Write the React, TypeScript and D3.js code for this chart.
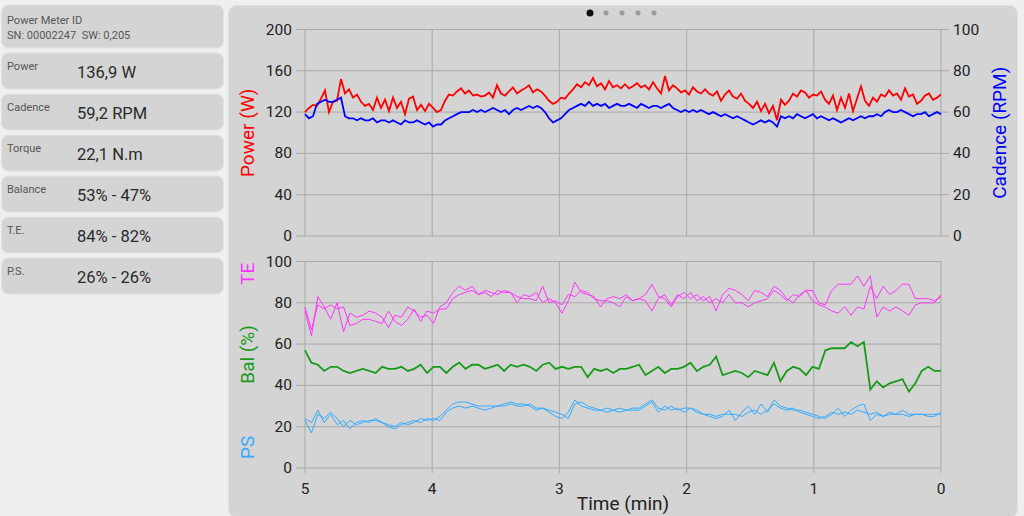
import * as d3 from 'd3';

// top chart: power (W) and cadence (RPM), 160 samples from 5 min ago to now
const powerW = [
  120, 124, 127, 126, 133, 141, 120, 130, 131, 152, 138, 142, 134, 137, 130, 126, 128, 122, 134, 124,
  132, 121, 134, 124, 130, 118, 133, 135, 122, 127, 121, 128, 124, 120, 122, 131, 137, 136, 140, 143,
  138, 141, 136, 137, 135, 136, 139, 134, 146, 138, 136, 140, 144, 138, 141, 143, 146, 139, 142, 140,
  136, 131, 128, 130, 134, 133, 138, 142, 147, 144, 149, 146, 153, 145, 148, 142, 150, 144, 146, 143,
  147, 143, 145, 148, 144, 146, 142, 149, 143, 138, 155, 141, 146, 143, 139, 141, 137, 144, 140, 138,
  142, 138, 136, 140, 131, 137, 141, 135, 133, 138, 131, 128, 124, 130, 121, 128, 119, 126, 112, 132,
  127, 131, 138, 135, 141, 139, 134, 137, 136, 140, 132, 128, 136, 122, 134, 124, 138, 121, 133, 145,
  131, 126, 134, 130, 137, 135, 141, 136, 138, 132, 143, 135, 137, 128, 131, 136, 138, 132, 134, 137,
];
const cadenceRpm = [
  59, 57, 58, 64, 65, 66, 65, 65, 66, 67, 58, 57, 57, 56, 57, 56, 56, 57, 55, 56,
  56, 55, 56, 55, 54, 56, 55, 55, 56, 55, 54, 55, 53, 54, 54, 56, 57, 58, 59, 60,
  60, 60, 61, 60, 61, 60, 61, 62, 61, 60, 61, 59, 61, 62, 61, 62, 63, 62, 63, 62,
  60, 57, 55, 56, 57, 59, 61, 62, 63, 64, 63, 65, 63, 64, 63, 64, 62, 63, 64, 63,
  63, 64, 63, 62, 64, 63, 62, 63, 63, 62, 63, 64, 62, 61, 60, 61, 60, 61, 60, 61,
  60, 59, 60, 59, 58, 59, 58, 57, 58, 57, 56, 55, 54, 55, 56, 55, 56, 55, 53, 58,
  57, 58, 57, 59, 58, 57, 58, 59, 57, 58, 57, 56, 57, 56, 55, 56, 57, 56, 57, 58,
  57, 58, 58, 59, 58, 60, 61, 60, 60, 61, 60, 59, 58, 59, 59, 60, 58, 59, 60, 59,
];

// bottom chart: 100 samples each
const teA = [
  76, 64, 83, 78, 72, 80, 66, 75, 73, 74, 76, 75, 73, 68, 74, 73, 78, 76, 73, 74,
  70, 78, 80, 85, 88, 86, 88, 84, 86, 85, 84, 86, 85, 80, 84, 83, 85, 80, 82, 80,
  75, 81, 90, 85, 84, 83, 78, 82, 83, 82, 84, 81, 82, 84, 89, 83, 82, 78, 83, 85,
  82, 84, 81, 83, 76, 84, 87, 86, 84, 81, 86, 85, 83, 88, 86, 82, 80, 84, 86, 86,
  80, 79, 86, 89, 89, 89, 93, 88, 93, 73, 78, 76, 78, 76, 74, 79, 80, 80, 80, 84,
];
const teB = [
  78, 67, 79, 77, 79, 77, 78, 69, 70, 72, 72, 71, 70, 76, 71, 69, 72, 77, 71, 76,
  75, 77, 77, 82, 84, 85, 86, 84, 85, 83, 86, 85, 85, 83, 82, 82, 81, 88, 80, 81,
  79, 84, 83, 86, 85, 82, 81, 81, 80, 78, 83, 81, 82, 81, 76, 82, 84, 79, 84, 82,
  85, 81, 83, 80, 82, 80, 84, 80, 80, 78, 80, 81, 82, 86, 84, 81, 84, 83, 86, 81,
  79, 78, 76, 75, 78, 74, 78, 77, 88, 82, 88, 84, 86, 89, 89, 82, 82, 82, 81, 83,
];
const balance = [
  57, 51, 50, 47, 49, 49, 47, 46, 47, 48, 47, 46, 49, 48, 48, 49, 47, 48, 50, 46,
  49, 49, 46, 49, 51, 48, 50, 50, 48, 49, 50, 47, 50, 49, 50, 49, 47, 50, 51, 48,
  49, 48, 49, 49, 44, 48, 47, 48, 46, 48, 48, 49, 50, 45, 47, 49, 46, 48, 48, 49,
  51, 47, 49, 50, 54, 45, 46, 47, 46, 44, 47, 46, 45, 51, 42, 47, 49, 48, 45, 49,
  48, 57, 58, 58, 58, 61, 59, 61, 38, 42, 39, 41, 42, 43, 37, 41, 47, 49, 47, 47,
];
const psA = [
  23, 17, 26, 24, 27, 24, 20, 23, 21, 22, 23, 23, 22, 20, 19, 21, 22, 23, 22, 24,
  23, 25, 28, 31, 32, 32, 31, 30, 30, 30, 30, 31, 32, 31, 31, 30, 28, 29, 27, 25,
  24, 27, 33, 30, 29, 28, 28, 27, 28, 27, 28, 28, 28, 30, 32, 27, 30, 28, 29, 27,
  29, 27, 26, 25, 24, 25, 28, 23, 27, 30, 26, 31, 27, 33, 30, 29, 28, 28, 27, 26,
  25, 24, 26, 29, 25, 28, 30, 31, 23, 26, 25, 26, 26, 28, 26, 26, 26, 25, 25, 27,
];
const psB = [
  24, 22, 28, 22, 26, 21, 23, 19, 22, 23, 22, 24, 22, 21, 20, 22, 21, 22, 24, 23,
  24, 23, 27, 29, 30, 29, 30, 29, 28, 29, 30, 30, 31, 30, 30, 31, 29, 29, 28, 27,
  26, 24, 31, 32, 30, 29, 28, 29, 28, 29, 28, 29, 29, 31, 33, 29, 28, 30, 28, 29,
  29, 28, 26, 26, 25, 26, 26, 26, 25, 27, 28, 26, 28, 31, 29, 28, 29, 27, 26, 25,
  24, 25, 27, 26, 27, 26, 28, 27, 26, 27, 25, 27, 26, 26, 25, 26, 26, 26, 26, 26,
];

const timeTicks = [5, 4, 3, 2, 1, 0];
const powerTicks = [0, 40, 80, 120, 160, 200];
const cadenceTicks = [0, 20, 40, 60, 80, 100];
const pctTicks = [0, 20, 40, 60, 80, 100];

const infoCards = [
  { label: 'Power', value: '136,9 W' },
  { label: 'Cadence', value: '59,2 RPM' },
  { label: 'Torque', value: '22,1 N.m' },
  { label: 'Balance', value: '53% - 47%' },
  { label: 'T.E.', value: '84% - 82%' },
  { label: 'P.S.', value: '26% - 26%' },
];

const FONT = 'Roboto, "Noto Sans", sans-serif';

export default function App() {
  const x = d3.scaleLinear().domain([5, 0]).range([305, 941]);
  const yPow = d3.scaleLinear().domain([0, 200]).range([236, 29.5]);
  const yCad = d3.scaleLinear().domain([0, 100]).range([236, 29.5]);
  const yPct = d3.scaleLinear().domain([0, 100]).range([468, 261.5]);

  const tAt = (n: number) => (i: number) => 5 - (i * 5) / (n - 1);
  const lineOf = (vals: number[], y: d3.ScaleLinear<number, number>) => {
    const t = tAt(vals.length);
    return d3.line<number>().x((_, i) => x(t(i))).y((d) => y(d))(vals) || '';
  };

  const gridCol = '#a9a9a9';

  return (
    <div style={{ position: 'absolute', left: 0, top: 0, width: 1024, height: 516, background: '#efefef' }}>
      <svg width={1024} height={516} style={{ display: 'block', fontFamily: FONT }}>
        {/* left info cards */}
        <rect x={1.5} y={5} width={222} height={43} rx={7} fill="#d4d4d4" stroke="#e2e2e2" />
        <text x={7} y={24} fontSize={11} fill="#555">Power Meter ID</text>
        <text x={7} y={39} fontSize={11} fill="#555" style={{ whiteSpace: 'pre' }}>SN: 00002247  SW: 0,205</text>
        {infoCards.map((c, i) => {
          const top = 53 + i * 41;
          return (
            <g key={c.label}>
              <rect x={1.5} y={top} width={222} height={36} rx={7} fill="#d4d4d4" stroke="#e2e2e2" />
              <text x={7} y={top + 17} fontSize={11} fill="#555">{c.label}</text>
              <text x={77} y={top + 25} fontSize={16.5} fill="#2a2a2a">{c.value}</text>
            </g>
          );
        })}

        {/* chart panel */}
        <rect x={228.5} y={5.5} width={789} height={512} rx={8} fill="#d4d4d4" stroke="#e0e0e0" />
        <circle cx={590} cy={13} r={3.5} fill="#111" />
        {[606, 622, 638, 654].map((cx) => (
          <circle key={cx} cx={cx} cy={13} r={2.5} fill="#9a9a9a" />
        ))}

        {/* top chart grid */}
        {powerTicks.map((v) => (
          <g key={'p' + v}>
            <line x1={296} x2={949} y1={yPow(v)} y2={yPow(v)} stroke={gridCol} strokeWidth={1} />
            <text x={292} y={yPow(v) + 5} fontSize={15.5} textAnchor="end" fill="#222">{v}</text>
          </g>
        ))}
        {cadenceTicks.map((v) => (
          <text key={'c' + v} x={953} y={yCad(v) + 5} fontSize={15.5} fill="#222">{v}</text>
        ))}
        {timeTicks.map((t) => (
          <line key={'tv' + t} x1={x(t)} x2={x(t)} y1={yPow(200)} y2={yPow(0)} stroke={gridCol} strokeWidth={1} />
        ))}
        <text transform={`translate(254,${yPow(100)}) rotate(-90)`} textAnchor="middle" fontSize={19} fill="#ff0000">Power (W)</text>
        <text transform={`translate(1006,${yPow(100)}) rotate(-90)`} textAnchor="middle" fontSize={19} fill="#0000ff">Cadence (RPM)</text>

        <path d={lineOf(powerW, yPow)} fill="none" stroke="#ff0000" strokeWidth={1.8} />
        <path d={lineOf(cadenceRpm, yCad)} fill="none" stroke="#0000ff" strokeWidth={1.8} />

        {/* bottom chart grid */}
        {pctTicks.map((v) => (
          <g key={'b' + v}>
            <line x1={296} x2={941} y1={yPct(v)} y2={yPct(v)} stroke={gridCol} strokeWidth={1} />
            <text x={292} y={yPct(v) + 5} fontSize={15.5} textAnchor="end" fill="#222">{v}</text>
          </g>
        ))}
        {timeTicks.map((t) => (
          <g key={'bt' + t}>
            <line x1={x(t)} x2={x(t)} y1={yPct(100)} y2={yPct(0) + 5} stroke={gridCol} strokeWidth={1} />
            <text x={x(t)} y={494} fontSize={15.5} textAnchor="middle" fill="#222">{t}</text>
          </g>
        ))}
        <text x={623} y={510} fontSize={19} textAnchor="middle" fill="#222">Time (min)</text>
        <text transform={`translate(254,${yPct(94)}) rotate(-90)`} textAnchor="middle" fontSize={19} fill="#ff33ff">TE</text>
        <text transform={`translate(254,${yPct(55)}) rotate(-90)`} textAnchor="middle" fontSize={19} fill="#1a9a1a">Bal (%)</text>
        <text transform={`translate(254,${yPct(10)}) rotate(-90)`} textAnchor="middle" fontSize={19} fill="#33aaff">PS</text>

        <path d={lineOf(teA, yPct)} fill="none" stroke="#ff33ff" strokeWidth={1} />
        <path d={lineOf(teB, yPct)} fill="none" stroke="#ff33ff" strokeWidth={1} />
        <path d={lineOf(balance, yPct)} fill="none" stroke="#1a9a1a" strokeWidth={1.8} />
        <path d={lineOf(psA, yPct)} fill="none" stroke="#33aaff" strokeWidth={1} />
        <path d={lineOf(psB, yPct)} fill="none" stroke="#33aaff" strokeWidth={1} />
      </svg>
    </div>
  );
}
